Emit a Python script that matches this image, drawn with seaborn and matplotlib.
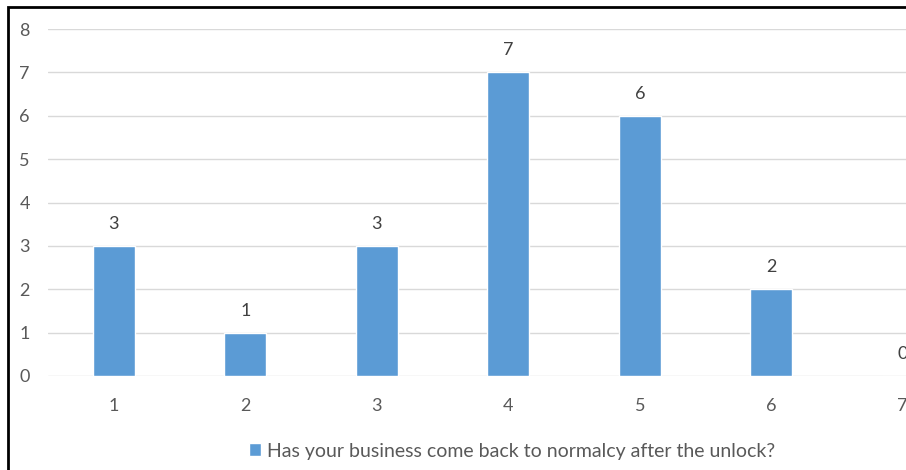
import seaborn as sns
import matplotlib.pyplot as plt
import matplotlib.patches as mpatches
import pandas as pd

categories = ["1", "2", "3", "4", "5", "6", "7"]
counts = [3, 1, 3, 7, 6, 2, 0]
series_name = "Has your business come back to normalcy after the unlock?"

sns.set_style("white")
plt.rcParams['font.family'] = ['Lato', 'DejaVu Sans']

df = pd.DataFrame({"category": categories, "count": counts})

fig = plt.figure(figsize=(9.06, 4.70), dpi=100)
W, H = 906, 470
# axes runs past the right edge (reference is cropped there)
ax = fig.add_axes([48 / W, 1 - 376 / H, 7 * 131.5 / W, (376 - 29) / H])

bar_color = "#5B9BD5"
sns.barplot(data=df, x="category", y="count", color=bar_color, width=0.32,
            ax=ax, saturation=1, label=series_name)

ax.set_xlim(-0.5, 6.5)
ax.set_ylim(0, 8)
ax.set_yticks(range(0, 9))
ax.grid(axis='y', color='#D9D9D9', linewidth=1)
ax.set_axisbelow(True)
for s in ax.spines.values():
    s.set_visible(False)
ax.set_xlabel("")
ax.set_ylabel("")
ax.tick_params(axis='both', length=0, labelsize=13, labelcolor='#595959')
ax.tick_params(axis='y', pad=13)
ax.tick_params(axis='x', pad=16)

for c in ax.containers:
    ax.bar_label(c, labels=[str(v) for v in counts], padding=10,
                 fontsize=13, color='#404040')

ax.legend(loc='center', bbox_to_anchor=(512 / W, 1 - 451 / H),
          bbox_transform=fig.transFigure, frameon=False, fontsize=14,
          handlelength=0.6, handleheight=0.6, handletextpad=0.3,
          labelcolor='#595959')

# chart border (cropped on right and bottom)
fig.patches.append(mpatches.Rectangle((8 / W, -0.1), 1.2, 1 - 7 / H + 0.1,
                                      transform=fig.transFigure, fill=False,
                                      edgecolor='black', linewidth=2))

fig.savefig("out.png", dpi=100)
